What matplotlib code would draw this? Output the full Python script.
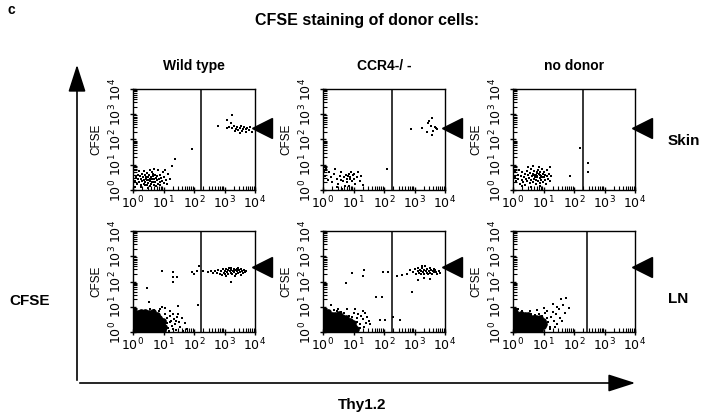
import numpy as np
import matplotlib
matplotlib.use("Agg")
import matplotlib.pyplot as plt
from matplotlib.ticker import LogLocator, NullFormatter

plt.rcParams['font.family'] = ['Liberation Sans', 'DejaVu Sans']

# all dot positions are log10 exponents (Thy1.2, CFSE)
wt_skin = [(0.05,0.35),(0.1,0.5),(0.12,0.25),(0.15,0.6),(0.18,0.42),(0.2,0.3),(0.22,0.55),(0.25,0.18),
           (0.27,0.45),(0.3,0.65),(0.3,0.35),(0.33,0.5),(0.35,0.25),(0.37,0.4),(0.4,0.58),(0.4,0.3),
           (0.42,0.45),(0.45,0.2),(0.45,0.68),(0.47,0.38),(0.5,0.5),(0.5,0.28),(0.52,0.6),(0.55,0.42),
           (0.55,0.15),(0.57,0.35),(0.6,0.52),(0.6,0.25),(0.62,0.45),(0.63,0.7),(0.65,0.33),(0.67,0.55),
           (0.68,0.2),(0.7,0.42),(0.72,0.6),(0.73,0.3),(0.75,0.48),(0.77,0.15),(0.78,0.38),(0.8,0.55),
           (0.82,0.25),(0.83,0.8),(0.85,0.43),(0.87,0.32),(0.9,0.6),(0.9,0.2),(0.93,0.48),(0.95,0.35),
           (0.98,0.7),(1.0,0.28),(1.02,0.5),(1.05,0.8),(1.08,0.4),(1.1,0.22),(1.15,0.62),(1.2,0.45),
           (0.35,0.75),(0.55,0.8),(0.7,0.85),(0.2,0.75),(0.08,0.12),(0.25,0.1),(0.48,0.08),(0.65,0.62),
           (0.58,0.48),(0.44,0.52),(0.52,0.38),(0.62,0.3),(0.38,0.2),(0.0,0.45),(0.0,0.62),(0.0,0.2),
           (1.27,0.96),(1.38,1.24),(1.92,1.63),
           (2.79,2.53),(3.09,2.77),(3.25,2.99),(3.07,2.47),(3.15,2.5),(3.25,2.45),(3.3,2.55),(3.38,2.42),
           (3.42,2.5),(3.45,2.38),(3.5,2.45),(3.55,2.52),(3.58,2.35),(3.62,2.43),(3.65,2.48),(3.7,2.4),
           (3.72,2.3),(3.75,2.46),(3.8,2.38),(3.85,2.5),(3.9,2.3),(3.2,2.65),(3.5,2.25),(3.35,2.35)]

ccr4_skin = [(0.0,0.7),(0.0,0.6),(0.02,0.75),(0.05,0.55),(0.1,0.85),(0.15,0.4),(0.2,0.7),(0.25,0.5),
             (0.3,0.3),(0.35,0.62),(0.4,0.85),(0.45,0.45),(0.5,0.25),(0.55,0.55),(0.58,0.4),(0.6,0.7),
             (0.65,0.35),(0.7,0.5),(0.72,0.15),(0.75,0.6),(0.78,0.45),(0.8,0.3),(0.82,0.55),(0.85,0.62),
             (0.88,0.42),(0.9,0.5),(0.92,0.7),(0.95,0.35),(0.98,0.58),(1.0,0.45),(1.02,0.62),(1.05,0.25),
             (1.1,0.5),(1.15,0.7),(1.2,0.35),(1.25,0.55),(1.3,0.2),(0.45,0.1),(0.62,0.05),(0.85,0.15),
             (2.09,0.85),
             (2.9,2.4),(3.26,2.45),(3.43,2.67),(3.59,2.87),(3.48,2.75),(3.67,2.51),(3.57,2.19),(3.62,2.35),
             (3.7,2.45),(3.55,2.55),(3.75,2.4),(3.4,2.3)]

nd_skin = [(0.05,0.5),(0.08,0.7),(0.1,0.35),(0.15,0.6),(0.18,0.45),(0.2,0.8),(0.22,0.25),(0.25,0.55),
           (0.28,0.4),(0.3,0.7),(0.32,0.3),(0.35,0.5),(0.38,0.62),(0.4,0.2),(0.42,0.45),(0.45,0.75),
           (0.47,0.35),(0.5,0.58),(0.52,0.48),(0.55,0.28),(0.55,0.68),(0.58,0.4),(0.6,0.85),(0.62,0.55),
           (0.64,0.3),(0.66,0.65),(0.68,0.45),(0.7,0.75),(0.72,0.5),(0.74,0.22),(0.75,0.6),(0.77,0.4),
           (0.78,0.7),(0.8,0.55),(0.82,0.35),(0.83,0.8),(0.85,0.62),(0.87,0.48),(0.88,0.28),(0.9,0.7),
           (0.92,0.55),(0.93,0.4),(0.95,0.82),(0.97,0.62),(0.98,0.3),(1.0,0.5),(1.02,0.72),(1.04,0.4),
           (1.06,0.6),(1.08,0.25),(1.1,0.55),(1.12,0.8),(1.15,0.45),(1.18,0.65),(1.2,0.35),(1.22,0.9),
           (1.25,0.55),(0.65,0.95),(0.85,0.92),(0.5,0.9),(0.3,0.15),(0.6,0.12),(0.9,0.15),(0.75,0.52),
           (0.8,0.66),(0.7,0.58),(0.88,0.6),(0.78,0.5),(0.68,0.6),(0.95,0.5),(0.0,0.55),(0.0,0.4),
           (0.0,0.7),(2.2,1.66),(2.47,1.06),(2.47,0.73),(1.88,0.54)]

# dense host-cell cores of the lymph node panels (drawn with bigger dots)
wt_ln_core = [(0.03,0.07),(0.15,0.1),(0.27,0.06),(0.37,0.09),(0.5,0.07),(0.61,0.1),(0.73,0.06),(0.86,0.09),(0.97,0.08),
              (0.05,0.21),(0.18,0.19),(0.29,0.22),(0.41,0.18),(0.52,0.21),(0.64,0.2),(0.75,0.22),(0.88,0.18),(1.0,0.2),
              (0.02,0.33),(0.13,0.31),(0.25,0.34),(0.36,0.3),(0.48,0.33),(0.6,0.31),(0.72,0.34),(0.84,0.3),(0.95,0.32),
              (0.04,0.45),(0.16,0.43),(0.28,0.46),(0.4,0.42),(0.51,0.45),(0.63,0.44),(0.76,0.42),(0.87,0.46),(0.99,0.43),
              (0.02,0.57),(0.14,0.55),(0.26,0.58),(0.38,0.54),(0.49,0.57),(0.62,0.55),(0.74,0.58),(0.85,0.54),
              (0.05,0.69),(0.17,0.67),(0.3,0.7),(0.42,0.66),(0.55,0.69),(0.67,0.67),(0.8,0.66),
              (0.03,0.79),(0.15,0.77),(0.27,0.8),(0.4,0.78),(0.52,0.76),(0.65,0.79)]
wt_ln = [(0.7,0.88),(0.55,0.9),(0.85,0.85),(0.9,0.92),(1.05,0.7),(1.1,0.55),(1.12,0.35),(1.15,0.15),
         (1.2,0.62),(1.25,0.45),(1.28,0.25),(1.3,0.7),(1.35,0.5),(1.38,0.3),(1.4,0.08),(1.45,0.6),
         (1.5,0.4),(1.55,0.2),(1.6,0.55),(1.65,0.05),(1.7,0.35),(1.76,0.1),(1.2,0.85),(1.05,0.95),
         (1.18,0.05),(1.32,0.12),(1.48,0.7),(0.95,1.0),(1.22,0.4),(1.42,0.45),
         (0.96,2.40),(1.3,2.36),(1.3,2.16),(1.45,2.16),(1.32,2.0),(0.47,1.73),(0.53,1.2),(1.92,2.37),
         (2.09,2.4),(2.16,2.6),(2.0,2.3),(2.14,1.07),(1.47,1.03),
         (2.31,2.4),(2.45,2.37),(2.55,2.42),(2.62,2.35),(2.7,2.4),(2.8,2.45),(2.85,2.3),(2.9,2.4),
         (2.95,2.5),(2.98,2.35),(3.0,2.42),(3.03,2.28),(3.06,2.48),(3.08,2.38),(3.1,2.45),(3.12,2.3),
         (3.15,2.52),(3.17,2.4),(3.2,2.35),(3.22,2.46),(3.25,2.3),(3.27,2.42),(3.3,2.5),(3.32,2.36),
         (3.35,2.44),(3.37,2.28),(3.4,2.4),(3.42,2.5),(3.45,2.33),(3.48,2.45),(3.5,2.38),(3.53,2.26),
         (3.55,2.48),(3.58,2.4),(3.6,2.32),(3.63,2.45),(3.66,2.38),(3.7,2.42),(3.05,2.22),(3.35,2.2),
         (3.2,2.55),(2.92,2.25),(3.2,1.99),(3.45,2.55),(2.75,2.33)]

ccr4_ln_core = [(0.02,0.06),(0.14,0.09),(0.26,0.05),(0.38,0.08),(0.5,0.06),(0.62,0.09),(0.74,0.05),(0.86,0.08),(0.98,0.07),(1.08,0.1),
                (0.04,0.19),(0.16,0.21),(0.28,0.18),(0.4,0.22),(0.53,0.19),(0.65,0.21),(0.77,0.18),(0.89,0.22),(1.01,0.19),
                (0.03,0.32),(0.15,0.3),(0.27,0.33),(0.39,0.31),(0.51,0.34),(0.63,0.3),(0.75,0.33),(0.87,0.31),(0.99,0.34),
                (0.05,0.44),(0.17,0.46),(0.29,0.43),(0.41,0.45),(0.53,0.42),(0.65,0.46),(0.77,0.43),(0.89,0.45),
                (0.02,0.56),(0.14,0.58),(0.26,0.55),(0.38,0.57),(0.5,0.54),(0.62,0.58),(0.74,0.56),
                (0.04,0.68),(0.16,0.66),(0.28,0.69),(0.4,0.67),(0.52,0.7),
                (0.03,0.79),(0.15,0.8)]
ccr4_ln = [(0.25,1.05),(0.1,0.9),(0.35,0.88),(0.6,0.8),(0.7,0.75),(0.85,0.65),(0.95,0.6),(1.0,0.75),
           (1.1,0.55),(1.15,0.7),(1.12,0.4),(1.2,0.3),(1.25,0.65),(1.3,0.85),(1.32,0.5),(1.38,0.75),
           (1.4,0.35),(1.45,0.6),(1.5,0.45),(1.55,0.3),(1.2,0.15),(1.35,0.2),(0.5,0.9),(0.8,0.9),
           (1.05,0.9),(0.45,0.82),
           (0.94,2.33),(1.34,2.47),(1.32,2.2),(0.74,1.93),(1.96,2.37),(2.13,2.37),(1.73,1.4),(1.95,1.4),
           (1.87,0.47),(2.04,0.47),(2.31,0.6),(2.53,0.47),(2.42,2.2),(2.6,2.27),(2.75,2.3),(2.92,1.6),
           (2.85,2.45),(2.95,2.38),(3.0,2.5),(3.05,2.3),(3.1,2.42),(3.12,2.55),(3.15,2.35),(3.18,2.47),
           (3.2,2.28),(3.22,2.4),(3.25,2.52),(3.28,2.36),(3.3,2.45),(3.32,2.3),(3.35,2.6),(3.38,2.42),
           (3.4,2.35),(3.42,2.48),(3.45,2.28),(3.47,2.4),(3.5,2.55),(3.52,2.35),(3.55,2.45),(3.58,2.3),
           (3.6,2.42),(3.63,2.5),(3.65,2.36),(3.68,2.44),(3.72,2.38),(3.75,2.3),(3.8,2.42),(3.85,2.35),
           (3.3,2.15),(3.5,2.1),(3.1,2.05),(3.25,2.6)]

nd_ln_core = [(0.03,0.07),(0.15,0.1),(0.27,0.06),(0.39,0.09),(0.51,0.07),(0.63,0.1),(0.75,0.06),(0.87,0.09),
              (0.02,0.2),(0.14,0.18),(0.26,0.21),(0.38,0.19),(0.5,0.22),(0.62,0.18),(0.74,0.21),(0.86,0.19),(0.98,0.22),
              (0.05,0.33),(0.17,0.31),(0.29,0.34),(0.41,0.3),(0.53,0.33),(0.65,0.31),(0.77,0.34),(0.89,0.3),(1.0,0.33),
              (0.03,0.45),(0.15,0.43),(0.27,0.46),(0.39,0.44),(0.51,0.42),(0.63,0.45),(0.75,0.43),(0.87,0.46),(0.99,0.44),
              (0.04,0.57),(0.16,0.55),(0.28,0.58),(0.4,0.56),(0.52,0.59),(0.64,0.55),(0.76,0.57),(0.88,0.55),
              (0.02,0.69),(0.14,0.67),(0.26,0.7),(0.38,0.68),(0.5,0.66),(0.05,0.8)]
nd_ln = [(0.6,0.72),(0.72,0.68),(0.85,0.7),(0.95,0.65),(1.05,0.75),(1.1,0.55),(1.15,0.4),(1.2,0.2),
         (1.12,0.85),(1.25,0.6),(1.3,0.8),(1.35,0.45),(1.4,0.7),(1.45,0.3),(1.5,0.9),(1.55,0.55),
         (1.58,1.31),(1.74,1.36),(1.85,0.96),(1.65,1.05),(1.7,0.75),(1.45,1.0),(1.3,1.1),(0.3,0.85),
         (0.55,0.82),(0.15,0.92),(0.8,0.88),(1.0,0.95),(1.6,0.45),(1.22,0.1),(1.38,0.2)]

col_titles = ['Wild type', 'CCR4-/ -', 'no donor']
row_titles = ['Skin', 'LN']
gate_log = [[2.23, 2.25, 2.28], [2.23, 2.25, 2.44]]   # Thy1.2 gate per panel
donor_level = [2.47, 2.56]                           # arrowhead CFSE level per row
sparse = [[wt_skin, ccr4_skin, nd_skin], [wt_ln, ccr4_ln, nd_ln]]
dense = [[[], [], []], [wt_ln_core, ccr4_ln_core, nd_ln_core]]

W, H = 720, 419
fig = plt.figure(figsize=(W / 100, H / 100), dpi=100)

def px(l, t, w, h):
    return [l / W, 1 - (t + h) / H, w / W, h / H]

col_left = [133, 323, 513]
row_top = [89, 231]
dec = [r'$10^{%d}$' % k for k in range(5)]

for r in range(2):
    for c in range(3):
        ax = fig.add_axes(px(col_left[c], row_top[r], 122, 101))
        ax.set_xscale('log')
        ax.set_yscale('log')
        ax.set_xlim(1, 1e4)
        ax.set_ylim(1, 1e4)
        if dense[r][c]:
            core = np.array(dense[r][c])
            ax.plot(10 ** core[:, 0], 10 ** core[:, 1], 'o', ms=4.8, color='black', mew=0)
        pts = np.array(sparse[r][c])
        ax.plot(10 ** pts[:, 0], 10 ** pts[:, 1], 's', ms=1.9, color='black', mew=0)
        ax.axvline(10 ** gate_log[r][c], color='black', lw=1.1)
        ax.plot(10 ** 4.22, 10 ** donor_level[r], marker='<', ms=15, color='black',
                clip_on=False)
        for s in ax.spines.values():
            s.set_linewidth(1.0)
        ax.xaxis.set_minor_locator(LogLocator(base=10, subs=np.arange(2, 10), numticks=10))
        ax.yaxis.set_minor_locator(LogLocator(base=10, subs=np.arange(2, 10), numticks=10))
        ax.xaxis.set_minor_formatter(NullFormatter())
        ax.yaxis.set_minor_formatter(NullFormatter())
        ax.set_xticks([10 ** k for k in range(5)])
        ax.set_xticklabels(dec, fontsize=9)
        ax.set_yticks([10 ** k for k in range(5)])
        ax.set_yticklabels(dec, fontsize=9, rotation=90, va='center')
        ax.tick_params(which='major', direction='inout', length=5, width=1)
        ax.tick_params(axis='x', which='major', pad=1)
        ax.tick_params(axis='y', which='major', pad=4)
        ax.tick_params(which='minor', direction='in', length=3, width=0.8)
        ax.set_ylabel('CFSE', fontsize=8.5)
        ax.yaxis.set_label_coords(-0.25, 0.5)
        if r == 0:
            ax.set_title(col_titles[c], fontsize=10, fontweight='bold', pad=14)

for r, (name, y) in enumerate(zip(row_titles, [141, 299])):
    fig.text(668 / W, 1 - y / H, name, fontsize=11, fontweight='bold', va='center')

fig.text(8 / W, 1 - 10 / H, 'c', fontsize=10, fontweight='bold', va='center')
fig.text(367 / W, 1 - 21 / H, 'CFSE staining of donor cells:', fontsize=11.5,
         fontweight='bold', ha='center', va='center')
fig.text(30 / W, 1 - 301 / H, 'CFSE', fontsize=11, fontweight='bold', ha='center', va='center')
fig.text(362 / W, 1 - 405 / H, 'Thy1.2', fontsize=11, fontweight='bold', ha='center', va='center')

# large axis arrows
arrow = dict(arrowstyle='-|>,head_length=1.4,head_width=0.45', color='black', lw=1.2)
fig.add_artist(matplotlib.patches.FancyArrowPatch((77 / W, 1 - 383 / H), (77 / W, 1 - 62 / H),
               transform=fig.transFigure, mutation_scale=12, **arrow))
fig.add_artist(matplotlib.patches.FancyArrowPatch((77 / W, 1 - 383 / H), (638 / W, 1 - 383 / H),
               transform=fig.transFigure, mutation_scale=12, **arrow))

fig.savefig('out.png', dpi=100)
